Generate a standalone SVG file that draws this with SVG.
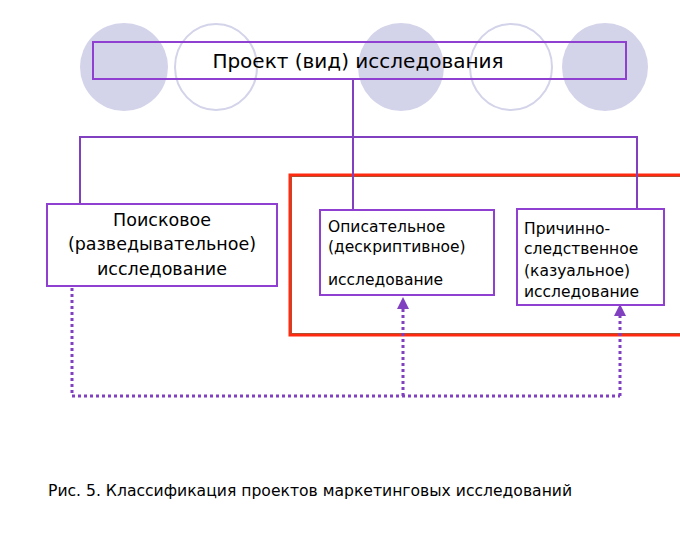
<svg xmlns="http://www.w3.org/2000/svg" width="680" height="540" viewBox="0 0 680 540">
<style>
.cf{fill:#d3d3ea;stroke:none}
.co{fill:none;stroke:#d3d3ea;stroke-width:2}
.box{fill:#fff;stroke:#9040d0;stroke-width:2}
.t{font-family:"DejaVu Sans",sans-serif;fill:#000}
.ln{fill:none;stroke:#8040c0;stroke-width:2}
.dt{fill:none;stroke:#8040c0;stroke-width:3;stroke-dasharray:3 3}
</style>
<defs>
<marker id="ar" viewBox="0 0 10 10" refX="5" refY="5" markerWidth="4" markerHeight="4" orient="auto">
<path d="M0,0 L10,5 L0,10 z" fill="#8040c0"/>
</marker>
</defs>
<rect width="680" height="540" fill="#fff"/>
<g id="decor">
<ellipse class="cf" cx="124" cy="67" rx="44" ry="44"/>
<ellipse class="co" cx="216" cy="67" rx="41" ry="43"/>
<ellipse class="cf" cx="401" cy="67" rx="43" ry="44"/>
<ellipse class="co" cx="511" cy="67" rx="41" ry="43"/>
<ellipse class="cf" cx="605" cy="67" rx="43" ry="44"/>
</g>
<g id="group-red">
<rect x="290" y="175" width="392" height="160" fill="none" stroke="#ff2a10" stroke-width="3"/>
<rect x="291.5" y="176.5" width="392" height="157" fill="none" stroke="#b05030" stroke-width="1"/>
</g>
<g id="connectors">
<path class="ln" d="M353,79 V210"/>
<path class="ln" d="M80,204 V137 H637 V209"/>
<path class="dt" d="M72,288 V396 H620"/>
<path class="dt" d="M403,396 V303" marker-end="url(#ar)"/>
<path class="dt" d="M620,396 V310" marker-end="url(#ar)"/>
</g>
<g id="top">
<rect class="box" x="93" y="42" width="533" height="37" style="fill:none"/>
<text class="t" x="358" y="68" text-anchor="middle" style="font-size:20px">Проект (вид) исследования</text>
</g>
<g id="n1" style="font-size:17.5px">
<rect class="box" x="47" y="204" width="230" height="82"/>
<text class="t" x="162" y="226" text-anchor="middle">Поисковое</text>
<text class="t" x="162" y="250" text-anchor="middle">(разведывательное)</text>
<text class="t" x="162" y="275" text-anchor="middle">исследование</text>
</g>
<g id="n2" style="font-size:15.5px">
<rect class="box" x="320" y="210" width="174" height="85"/>
<text class="t" x="328" y="232">Описательное</text>
<text class="t" x="328" y="252">(дескриптивное)</text>
<text class="t" x="328" y="285">исследование</text>
</g>
<g id="n3" style="font-size:15.5px">
<rect class="box" x="517" y="209" width="147" height="96"/>
<text class="t" x="524" y="234">Причинно-</text>
<text class="t" x="524" y="254">следственное</text>
<text class="t" x="524" y="276">(казуальное)</text>
<text class="t" x="524" y="297">исследование</text>
</g>
<text class="t" x="48" y="496" style="font-size:15.6px">Рис. 5. Классификация проектов маркетинговых исследований</text>
</svg>
